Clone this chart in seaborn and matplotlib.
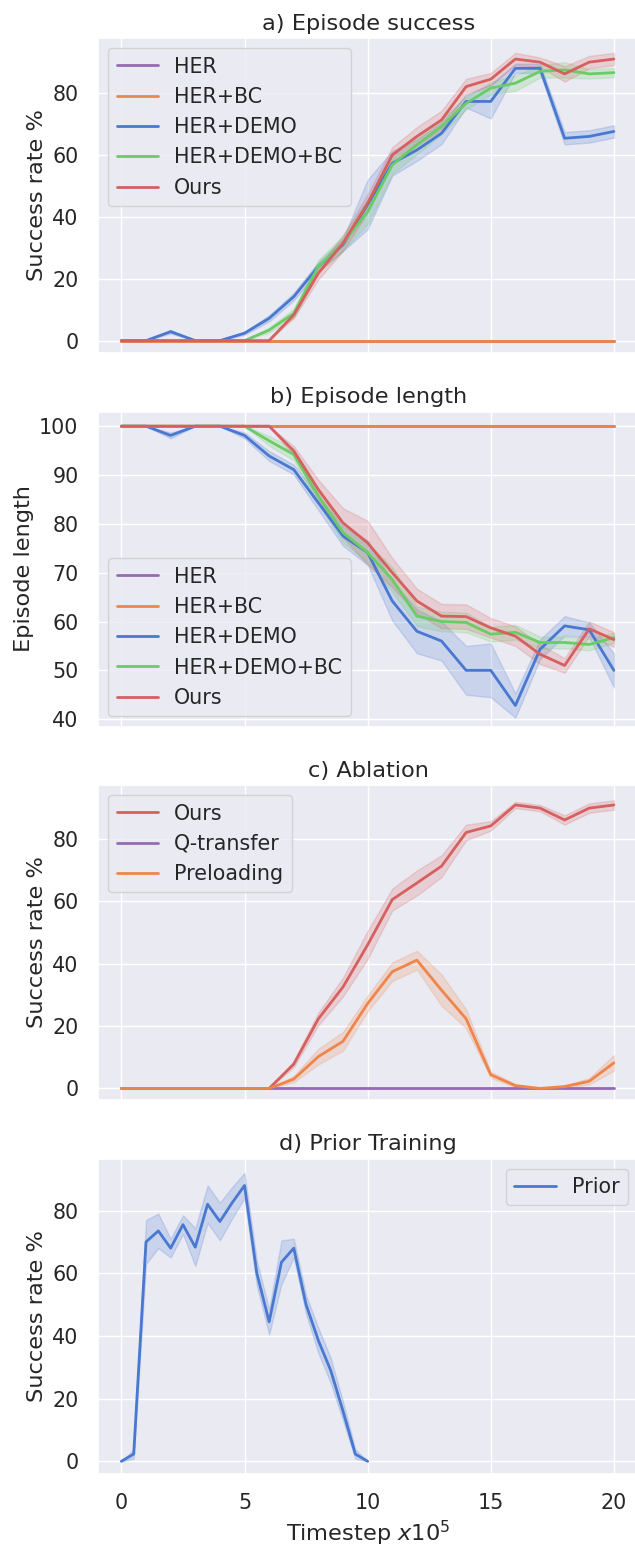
"""Episode success / length, ablation and prior training curves"""
import matplotlib
matplotlib.use("Agg")
import matplotlib.pyplot as plt
import numpy as np
import pandas as pd
import seaborn as sns

# x axis (x10^5 timesteps)
steps = list(range(21))
prior_steps = [i * 0.5 for i in range(21)]

# a) Episode success (mean, band half-width)
succ_her = [0] * 21
succ_her_bc = [0] * 21
succ_demo = [0, 0, 2.9, 0, 0, 2.4, 7.2, 14.2, 24, 31, 44, 57.3, 61.6, 67, 77.3, 77.3, 88, 88, 65.4, 66, 67.6]
succ_demo_bc = [0, 0, 0, 0, 0, 0, 3.4, 8.8, 24, 31.5, 41.7, 56.8, 63.3, 69.2, 76.7, 81.6, 83.2, 87, 87.5, 86.2, 86.6]
succ_ours = [0, 0, 0, 0, 0, 0, 0, 8.3, 21.8, 31.5, 44.4, 60, 66, 71.3, 82.1, 84.5, 91, 90, 86.2, 90, 91]
succ_demo_err = [0, 0, 0.6, 0, 0, 0.5, 1, 1.2, 1.5, 2, 8, 4, 3.5, 3.5, 2, 5.5, 1.5, 1.5, 2, 2, 2]
succ_demo_bc_err = [0, 0, 0, 0, 0, 0, 0.8, 1.5, 2, 2.5, 4, 3, 3, 2.5, 2, 2, 2.5, 2, 2.5, 1.5, 1.5]
succ_ours_err = [0, 0, 0, 0, 0, 0, 0, 1, 2, 2.5, 3, 2.5, 3, 3, 2.5, 2, 2, 1.5, 2.5, 2, 2]

# b) Episode length
len_her = [100] * 21
len_her_bc = [100] * 21
len_demo = [100, 100, 98.1, 100, 100, 98.1, 93.9, 91.1, 84.3, 77.5, 74.1, 64.2, 58, 56, 50, 50, 42.8, 54.3, 59.1, 58.3, 50]
len_demo_bc = [100, 100, 100, 100, 100, 100, 97, 94.2, 85.7, 78.2, 74.1, 68.6, 61.1, 60, 59.8, 57.4, 57.8, 55.7, 55.7, 55.3, 56.7]
len_ours = [100, 100, 100, 100, 100, 100, 100, 94.9, 87, 80.2, 76.1, 70, 64.2, 61.1, 61, 58.7, 57, 53.3, 51, 58.5, 56.3]
len_demo_err = [0, 0, 0.6, 0, 0, 0.6, 1, 1, 1.5, 2, 2.5, 4, 4.5, 4, 5, 5.5, 2.5, 2, 2, 1.5, 3.5]
len_demo_bc_err = [0, 0, 0, 0, 0, 0, 1, 1.2, 1.5, 2, 2, 2.5, 2, 2, 2, 1.5, 1.5, 1.2, 1.2, 1.2, 1]
len_ours_err = [0, 0, 0, 0, 0, 0, 0, 1, 2, 3, 4.5, 3, 2.5, 2.5, 2.5, 2, 2, 2, 1.5, 1.5, 1.5]

# c) Ablation
abl_ours = [0, 0, 0, 0, 0, 0, 0, 7.8, 22.3, 32.5, 46, 60.5, 65.8, 71.2, 82, 84.1, 90.8, 89.8, 86, 89.8, 90.8]
abl_qtransfer = [0] * 21
abl_preload = [0, 0, 0, 0, 0, 0, 0, 3, 10.2, 15.1, 27.2, 37.4, 41.1, 31.5, 22.3, 4.4, 0.9, 0, 0.6, 2.3, 8.2]
abl_ours_err = [0, 0, 0, 0, 0, 0, 0, 1, 2, 3, 4.5, 3.5, 4, 3.5, 2.5, 1.5, 1, 1, 1.5, 1.5, 1.5]
abl_preload_err = [0, 0, 0, 0, 0, 0, 0, 1, 2.5, 3, 2.5, 3, 3, 5, 3, 1, 0.5, 0.2, 0.4, 1, 2.5]

# d) Prior training
prior = [0, 2.3, 70, 73.5, 68, 75.5, 68.3, 82, 76.5, 82.5, 88, 60, 44.5, 63.5, 68, 50, 38.5, 29, 16, 2.3, 0]
prior_err = [0, 1.5, 7, 5.5, 3, 3, 6, 6, 6, 5, 4, 4, 4, 7, 3, 3, 4, 4, 3, 1.5, 0]

sns.set_theme(style="darkgrid", palette="muted", font_scale=1.35)
plt.rcParams["ytick.major.pad"] = 8
plt.rcParams["xtick.major.pad"] = 8
pal = sns.color_palette("muted")
BLUE, ORANGE, GREEN, RED, PURPLE = pal[0], pal[1], pal[2], pal[3], pal[4]


def runs(x, mean, err, name):
    # three pseudo-seeds per step: mean-err, mean, mean+err
    err = err if err is not None else [0] * len(mean)
    rows = []
    for xi, m, e in zip(x, mean, err):
        for v in (m - e, m, m + e):
            rows.append({"x": xi, "y": v, "method": name})
    return pd.DataFrame(rows)


def panel(ax, x, series, title, ylabel, ylim, loc):
    for name, mean, err, color in series:
        d = runs(x, mean, err, name)
        sns.lineplot(data=d, x="x", y="y", ax=ax, color=color, label=name,
                     errorbar=("pi", 100), linewidth=2)
    ax.set_title(title)
    ax.set_ylabel(ylabel)
    ax.set_xlabel("")
    ax.set_xlim(-0.95, 21.0)
    ax.set_ylim(*ylim)
    ax.set_xticks([0, 5, 10, 15, 20])
    ax.legend(loc=loc)


fig = plt.figure(figsize=(6.35, 15.46), dpi=100)
W, H = 635, 1546
tops = [38, 411.5, 785, 1158.5]
axes = [fig.add_axes([98 / W, 1 - (t + 315) / H, 540.5 / W, 315 / H]) for t in tops]

panel(axes[0], steps, [
    ("HER", succ_her, None, PURPLE),
    ("HER+BC", succ_her_bc, None, ORANGE),
    ("HER+DEMO", succ_demo, succ_demo_err, BLUE),
    ("HER+DEMO+BC", succ_demo_bc, succ_demo_bc_err, GREEN),
    ("Ours", succ_ours, succ_ours_err, RED),
], "a) Episode success", "Success rate %", (-4.0, 97.8), "upper left")

panel(axes[1], steps, [
    ("HER", len_her, None, PURPLE),
    ("HER+BC", len_her_bc, None, ORANGE),
    ("HER+DEMO", len_demo, len_demo_err, BLUE),
    ("HER+DEMO+BC", len_demo_bc, len_demo_bc_err, GREEN),
    ("Ours", len_ours, len_ours_err, RED),
], "b) Episode length", "Episode length", (38.5, 103.0), "lower left")
axes[1].set_yticks([40, 50, 60, 70, 80, 90, 100])

panel(axes[2], steps, [
    ("Ours", abl_ours, abl_ours_err, RED),
    ("Q-transfer", abl_qtransfer, None, PURPLE),
    ("Preloading", abl_preload, abl_preload_err, ORANGE),
], "c) Ablation", "Success rate %", (-3.7, 97.2), "upper left")

panel(axes[3], prior_steps, [
    ("Prior", prior, prior_err, BLUE),
], "d) Prior Training", "Success rate %", (-3.9, 96.6), "upper right")

for ax in axes[:3]:
    ax.tick_params(labelbottom=False)
axes[3].set_xlabel("Timestep $x10^5$")

fig.savefig("out.png", dpi=100)
